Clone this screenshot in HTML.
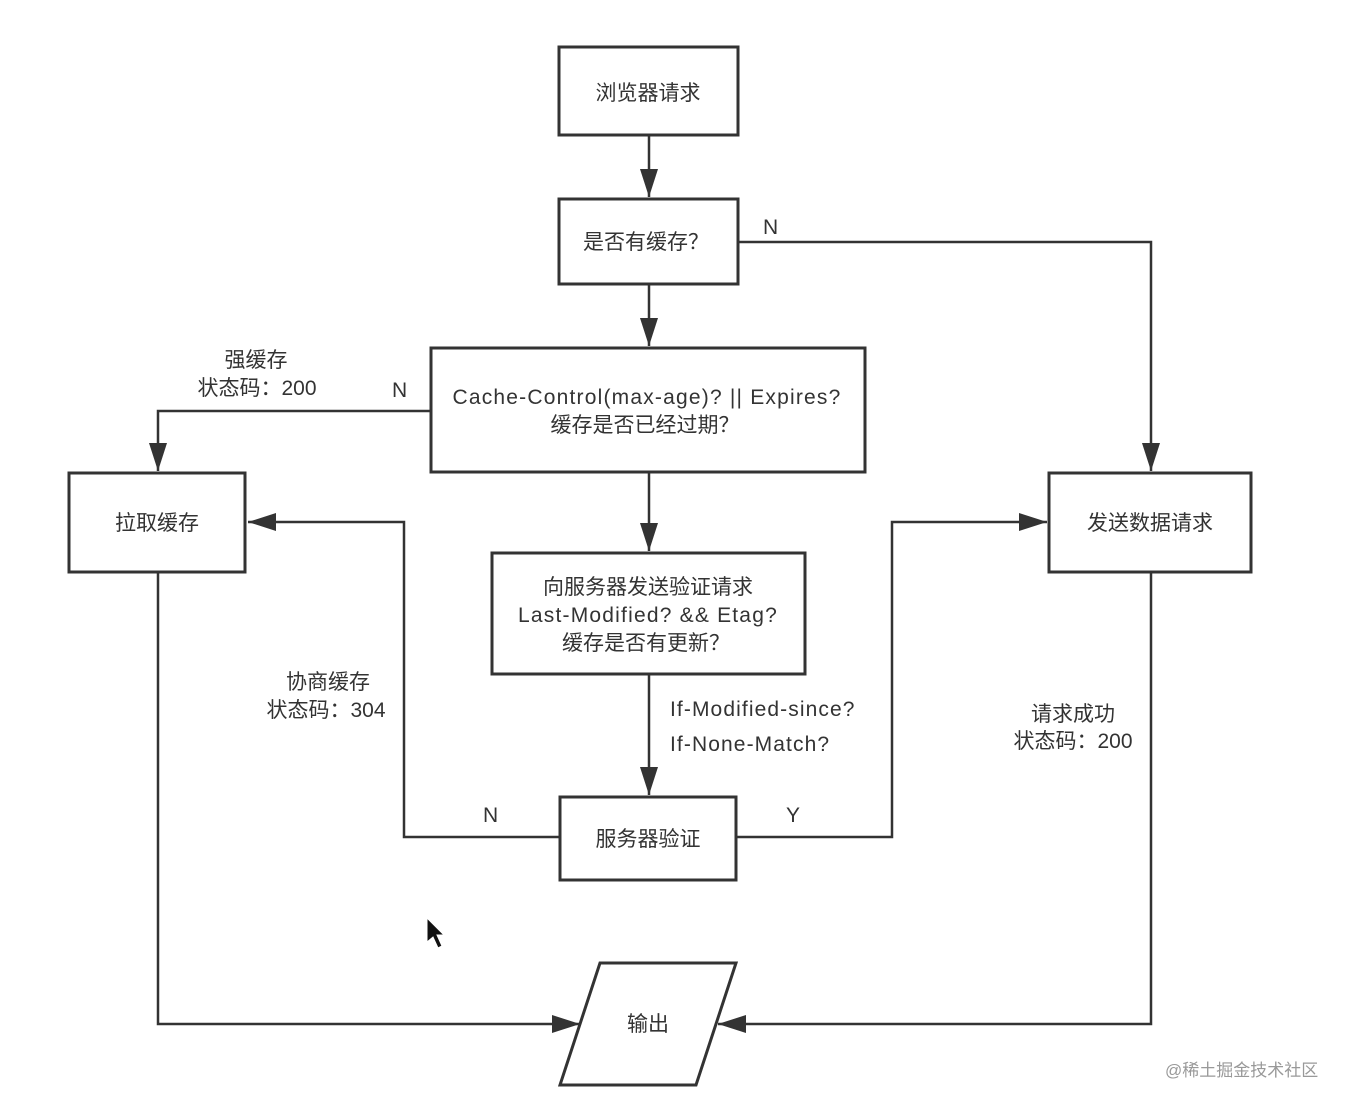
<!DOCTYPE html>
<html><head><meta charset="utf-8"><style>
html,body{margin:0;padding:0;background:#fff}
svg text{font-family:"Liberation Sans","Noto Sans CJK SC",sans-serif;fill:#333;font-size:21px}
</style></head><body>
<svg width="1354" height="1108" viewBox="0 0 1354 1108" xmlns="http://www.w3.org/2000/svg">
<defs>
<marker id="b" markerWidth="30" markerHeight="20" refX="28" refY="10" orient="auto" markerUnits="userSpaceOnUse"><path d="M0,1 L28,10 L0,19 z" fill="#333"/></marker></defs>
<g fill="none" stroke="#333" stroke-width="3">
<rect x="559" y="47" width="179" height="88"/>
<rect x="559" y="199" width="179" height="85"/>
<rect x="431" y="348" width="434" height="124"/>
<rect x="69" y="473" width="176" height="99"/>
<rect x="1049" y="473" width="202" height="99"/>
<rect x="492" y="553" width="313" height="121"/>
<rect x="560" y="797" width="176" height="83"/>
<polygon points="600,963 736,963 696,1085 560,1085"/>
<g stroke-width="2.5">
<polyline points="649,135 649,197" marker-end="url(#b)"/>
<polyline points="649,284 649,346" marker-end="url(#b)"/>
<polyline points="738,242 1151,242 1151,471" marker-end="url(#b)"/>
<polyline points="431,411 158,411 158,471" marker-end="url(#b)"/>
<polyline points="649,472 649,551" marker-end="url(#b)"/>
<polyline points="649,674 649,795" marker-end="url(#b)"/>
<polyline points="560,837 404,837 404,522 248,522" marker-end="url(#b)"/>
<polyline points="736,837 892,837 892,522 1047,522" marker-end="url(#b)"/>
<polyline points="158,572 158,1024 580,1024" marker-end="url(#b)"/>
<polyline points="1151,572 1151,1024 718,1024" marker-end="url(#b)"/>
</g></g>
<g text-anchor="middle">
<text x="648" y="100">浏览器请求</text>
<text x="646" y="249">是否有缓存？</text>
<text x="647" y="404" style="letter-spacing:1.2px">Cache-Control(max-age)? || Expires?</text>
<text x="645" y="432">缓存是否已经过期？</text>
<text x="157" y="530">拉取缓存</text>
<text x="1150" y="530">发送数据请求</text>
<text x="648" y="594">向服务器发送验证请求</text>
<text x="648" y="622" style="letter-spacing:1.2px">Last-Modified? &amp;&amp; Etag?</text>
<text x="646" y="650">缓存是否有更新？</text>
<text x="648" y="846">服务器验证</text>
<text x="648" y="1031">输出</text>
<text x="256" y="367">强缓存</text>
<text x="257" y="395">状态码：200</text>
<text x="328" y="689">协商缓存</text>
<text x="326" y="717">状态码：304</text>
<text x="1073" y="721">请求成功</text>
<text x="1073" y="748">状态码：200</text>
</g>
<text x="763" y="234">N</text>
<text x="392" y="397">N</text>
<text x="483" y="822">N</text>
<text x="786" y="822">Y</text>
<text x="670" y="716" style="letter-spacing:1.1px">If-Modified-since?</text>
<text x="670" y="751" style="letter-spacing:1.1px">If-None-Match?</text>
<text x="1165" y="1076" style="font-size:17px;fill:#999">@稀土掘金技术社区</text>
<path d="M427,918 L427,942 L433,937 L438,948 L442,946 L437,935 L444,935 Z" fill="#111" stroke="#fff" stroke-width="1"/>
</svg>
</body></html>
